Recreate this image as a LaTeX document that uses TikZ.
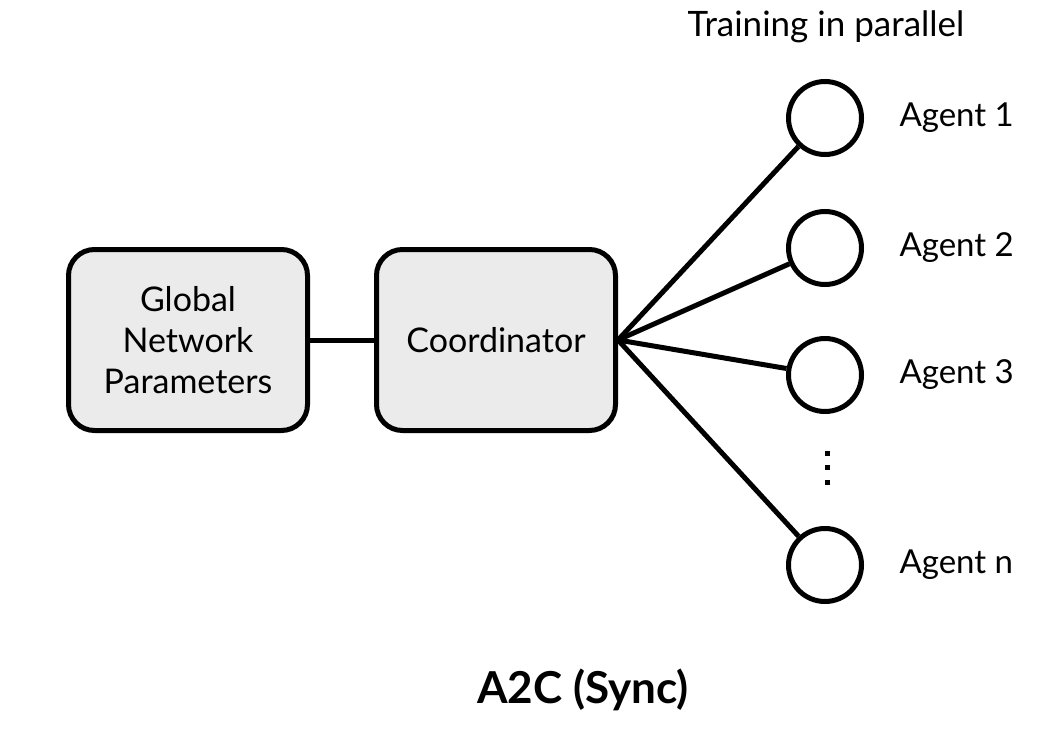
\documentclass[tikz,border=0pt]{standalone}
\usepackage{fontspec}
\setmainfont{Lato}
\usetikzlibrary{positioning}
\tikzset{
  box/.style={draw,line width=5pt,rounded corners=26pt,fill=boxgray,
    minimum width=239pt,minimum height=181pt,align=center,
    font=\fontsize{34}{41}\selectfont},
  agent/.style={draw,line width=5pt,circle,minimum size=73pt,inner sep=0pt},
  agentlabel/.style={font=\fontsize{33}{38}\selectfont,inner sep=0pt},
  dot/.style={fill,minimum size=5pt,inner sep=0pt}
}
\definecolor{boxgray}{HTML}{EBEBEB}

\begin{document}
\begin{tikzpicture}[x=1pt,y=-1pt,line width=5pt]
\useasboundingbox (0,0) rectangle (1038,730);

\node[box] (params) at (188,340) {Global\\Network\\Parameters};
\node[box] (coord) at (496,340) {Coordinator};
\draw (params) -- (coord);
\coordinate (hub) at (coord.east);

% the agents, trained side by side
\foreach \i/\ay in {1/118,2/248,3/375,n/565} {
  \node[agent] (agent\i) at (825,\ay) {};
  \node[agentlabel,right=33pt of agent\i] (label\i) {Agent \i};
  \draw (hub) -- (agent\i);
}
% vertical dots between agent 3 and agent n
\foreach \k/\dy in {1/453,2/467,3/482} {
  \node[dot] (dot\k) at (827,\dy) {};
}

\node[font=\fontsize{35}{40}\selectfont] (title) at (826,27) {Training in parallel};
\node[font=\bfseries\fontsize{44}{50}\selectfont] (caption) at (583,690) {A2C (Sync)};
\end{tikzpicture}
\end{document}
